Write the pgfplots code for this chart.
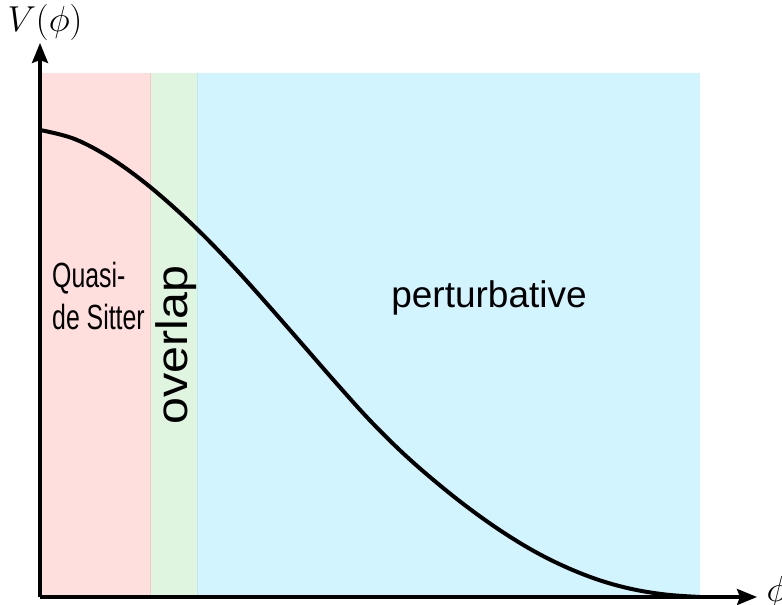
\documentclass[border=0pt]{standalone}
\usepackage{pgfplots}
\pgfplotsset{compat=1.18}
\usetikzlibrary{arrows.meta}
\usepackage{fontspec}
\setmainfont{Liberation Sans}
\newfontfamily\narrowfont[FakeStretch=0.71]{Liberation Sans}
\newfontfamily\widefont[FakeStretch=1.1]{Liberation Sans}
\definecolor{qpink}{RGB}{255,222,222}
\definecolor{qgreen}{RGB}{223,245,224}
\definecolor{qcyan}{RGB}{210,244,254}
\definecolor{qpinkd}{RGB}{240,200,200}
\definecolor{qcyand}{RGB}{185,235,240}
\begin{document}
\begin{tikzpicture}
\useasboundingbox (-40pt,-8pt) rectangle (742pt,597pt);
\begin{axis}[
  x=1pt, y=1pt, at={(0,0)}, anchor=south west,
  xmin=0, xmax=717, ymin=0, ymax=554,
  enlargelimits=false, clip=false, axis on top,
  axis lines=left, xtick=\empty, ytick=\empty,
  axis line style={line width=3.3pt, -{Stealth[length=20pt,width=16pt,inset=3pt]}},
]
\addplot[fill=qpink, draw=none] coordinates {(1,524) (110,524)} \closedcycle;
\addplot[fill=qgreen, draw=none] coordinates {(110,524) (157,524)} \closedcycle;
\addplot[fill=qcyan, draw=none] coordinates {(157,524) (660,524)} \closedcycle;
\addplot[draw=qpinkd, line width=0.8pt] coordinates {(110,1) (110,524)};
\addplot[draw=qcyand, line width=0.8pt] coordinates {(157,1) (157,524)};
\addplot[black, line width=4pt, smooth, tension=0.6] coordinates {
(0,467) (33,458.6) (66,441.8) (99,418.9) (132,391.3) (165,360.1)
(198,325.5) (231,288.6) (264,250.8) (297,213.0) (330,176.5) (363,143.8)
(396,114.9) (429,88.7) (462,65.4) (495,45.3) (528,29.0) (561,16.3)
(594,7.5) (627,2.3) (660,0)};
\node[anchor=base] at (axis cs:449,289) {\fontsize{37}{40}\selectfont perturbative};
\node[anchor=base west, inner sep=0pt] at (axis cs:12,309) {\narrowfont\fontsize{35}{38}\selectfont Quasi-};
\node[anchor=base west, inner sep=0pt] at (axis cs:12,267) {\narrowfont\fontsize{35}{38}\selectfont de Sitter};
\node[rotate=90, inner sep=0pt] at (axis cs:136,252) {\widefont\fontsize{44}{48}\selectfont overlap};
\node at (axis cs:5,575) {\scalebox{1.45}{\fontsize{24.88}{30}\selectfont $V(\phi)$}};
\node at (axis cs:737,5) {\scalebox{1.45}{\fontsize{24.88}{30}\selectfont $\phi$}};
\end{axis}
\end{tikzpicture}
\end{document}
